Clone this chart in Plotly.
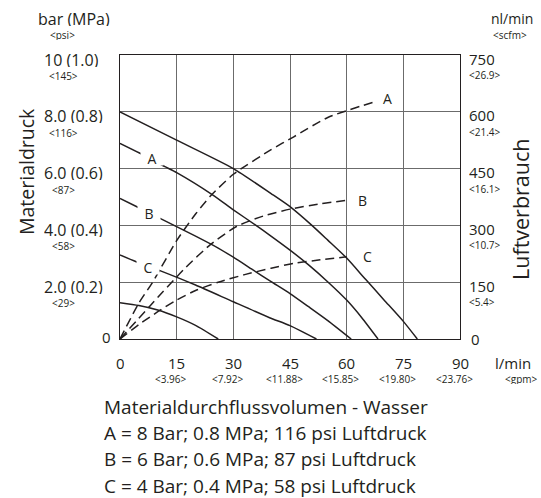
import plotly.graph_objects as go

# ---------------- data ----------------
# Material pressure (bar) vs material flow (l/min) - solid curves
flow_top = [0, 15, 30, 40, 45, 50.8, 55, 60, 65, 70, 75, 78.7]
pres_top = [8.0, 7.0, 6.0, 5.12, 4.66, 4.0, 3.48, 2.85, 2.1, 1.36, 0.62, 0]

flow_a = [0, 5.3, 11.9, 15, 24.6, 30, 36, 39.6, 45, 50, 55.1, 60, 64, 68.3]
pres_a = [6.89, 6.54, 6.07, 5.86, 5.07, 4.55, 4.0, 3.66, 3.13, 2.6, 2.0, 1.37, 0.75, 0]

flow_b = [0, 5, 11, 20, 26, 30, 35, 40, 45, 50, 55, 61.2]
pres_b = [4.95, 4.62, 4.22, 3.62, 3.2, 2.88, 2.45, 2.02, 1.6, 1.13, 0.65, 0]

flow_c = [0, 4.3, 10.9, 20, 30, 39.6, 45, 52]
pres_c = [2.96, 2.72, 2.39, 1.9, 1.31, 0.75, 0.47, 0]

flow_low = [0, 5, 10, 15, 20, 26]
pres_low = [1.28, 1.18, 1.02, 0.78, 0.48, 0]

# Air consumption (nl/min) vs material flow (l/min) - dashed curves
air_flow_a = [0, 5, 8.7, 15, 20, 24, 30, 40, 46, 55, 67.9]
air_a = [0, 95, 151, 260, 330, 378, 435, 500, 534, 585, 628]

air_flow_b = [0, 8, 17, 24, 31, 38, 45, 53, 60.8]
air_b = [0, 88, 185, 250, 298, 325, 343, 357, 367]

air_flow_c = [0, 5, 10, 15, 20, 26, 33, 40, 46, 53, 60]
air_c = [0, 38, 72, 103, 128, 150, 170, 187, 200, 209, 217]

# tick labels
x_vals = [0, 15, 30, 45, 60, 75, 90]
x_main = ["0", "15", "30", "45", "60", "75", "90"]
x_sub = ["", "<3.96>", "<7.92>", "<11.88>", "<15.85>", "<19.80>", "<23.76>"]

y_vals = [0, 2, 4, 6, 8, 10]
y_main = ["0", "2.0 (0.2)", "4.0 (0.4)", "6.0 (0.6)", "8.0 (0.8)", "10 (1.0)"]
y_sub = ["", "<29>", "<58>", "<87>", "<116>", "<145>"]

y2_vals = [0, 150, 300, 450, 600, 750]
y2_main = ["0", "150", "300", "450", "600", "750"]
y2_sub = ["", "<5.4>", "<10.7>", "<16.1>", "<21.4>", "<26.9>"]

legend_lines = [
    "Materialdurchflussvolumen - Wasser",
    "A = 8 Bar; 0.8 MPa; 116 psi Luftdruck",
    "B = 6 Bar; 0.6 MPa; 87 psi Luftdruck",
    "C = 4 Bar; 0.4 MPa; 58 psi Luftdruck",
]

# ---------------- layout geometry ----------------
W, H = 541, 498
L, R, T, B = 120, 460, 55, 339
FONT = "Open Sans"
INK = "#231f20"


def esc(s):
    return s.replace("&", "&amp;").replace("<", "&lt;").replace(">", "&gt;")


def px_x(px):
    return (px - L) / (R - L)


def px_y(py):
    return (B - py) / (B - T)


fig = go.Figure()

solid = dict(color=INK, width=1.5)
for fx, py in [(flow_top, pres_top), (flow_a, pres_a), (flow_b, pres_b),
               (flow_c, pres_c), (flow_low, pres_low)]:
    fig.add_trace(go.Scatter(x=fx, y=py, mode="lines", line=dict(shape="spline", smoothing=0.6, **solid),
                             hoverinfo="skip", showlegend=False))

dashed = dict(color=INK, width=1.5, dash="9px,5px")
for fx, ay in [(air_flow_a, air_a), (air_flow_b, air_b), (air_flow_c, air_c)]:
    fig.add_trace(go.Scatter(x=fx, y=ay, yaxis="y2", mode="lines",
                             line=dict(shape="spline", smoothing=0.6, **dashed),
                             hoverinfo="skip", showlegend=False))

ann = []


def text(x, y, s, size, xanchor="center", yanchor="middle", xref="paper", yref="paper",
         xshift=0, yshift=0, angle=0, **kw):
    kw.setdefault("borderpad", 0)
    ann.append(dict(x=x, y=y, xref=xref, yref=yref, text=s, showarrow=False,
                    font=dict(family=FONT, size=size, color=INK), xanchor=xanchor,
                    yanchor=yanchor, xshift=xshift, yshift=yshift, textangle=angle, **kw))


# left axis labels
for v, m, s in zip(y_vals, y_main, y_sub):
    if v == 0:
        text(0, v, m, 15, xanchor="right", yref="y", xshift=-8, yshift=2)
        continue
    text(0, v, esc(m), 16, xanchor="left", yref="y", xshift=43 - L, yshift=-4, height=15)
    text(0, v, esc(s), 10, xanchor="center", yref="y", xshift=63 - L, yshift=-21, height=10)

# right axis labels
for v, m, s in zip(y2_vals, y2_main, y2_sub):
    if v == 0:
        text(1, v, m, 15, xanchor="left", yref="y2", xshift=10, yshift=0)
        continue
    text(1, v, esc(m), 15, xanchor="left", yref="y2", xshift=468 - R, yshift=-3, height=15)
    text(1, v, esc(s), 10, xanchor="left", yref="y2", xshift=468 - R, yshift=-20, height=10)

# bottom axis labels
for v, m, s in zip(x_vals, x_main, x_sub):
    text(v, 0, m, 15, xref="x", yshift=-(362 - B), height=15)
    if s:
        text(v, 0, esc(s), 10, xref="x", xshift=-6, yshift=-(379 - B), height=10)

# axis headers / units
text(px_x(74), px_y(19), "bar (MPa)", 16, height=15)
text(px_x(62.5), px_y(35), esc("<psi>"), 10, height=10)
text(px_x(490), px_y(18), "nl/min", 14, xanchor="left", height=14)
text(px_x(492), px_y(35), esc("<scfm>"), 10, xanchor="left", height=10)
text(px_x(494), px_y(362), "l/min", 15, xanchor="left", height=15)
text(px_x(521.7), px_y(379), esc("<gpm>"), 10, height=10)

# axis titles
text(px_x(26), px_y(172), "Materialdruck", 19.5, angle=-90)
text(px_x(520), px_y(210), "Luftverbrauch", 21.5, angle=-90)

# curve labels on left (white box makes the gap in the line)
for fx, py, lab in [(8.38, 6.36, "A"), (7.74, 4.43, "B"), (7.48, 2.55, "C")]:
    text(fx, py, lab, 14, xref="x", yref="y", bgcolor="white", width=22, height=14)

# curve labels on right (dashed ends)
for fx, ay, lab in [(70.8, 634, "A"), (64.2, 367, "B"), (65.4, 217, "C")]:
    text(fx, ay, lab, 14, xref="x", yref="y2")

# legend text block
for i, line in enumerate(legend_lines):
    text(px_x(103), px_y(406.7 + i * 26.3), line, 19, xanchor="left")

grid = "#6b6b6b"
fig.update_layout(
    width=W, height=H,
    margin=dict(l=L, r=W - R, t=T, b=H - B, pad=0),
    paper_bgcolor="white", plot_bgcolor="white",
    showlegend=False,
    xaxis=dict(range=[0, 90], tickvals=x_vals, showticklabels=False, ticks="",
               showgrid=True, gridcolor=grid, gridwidth=1, zeroline=False,
               showline=True, linecolor=INK, linewidth=1, mirror=True, fixedrange=True),
    yaxis=dict(range=[0, 10], tickvals=y_vals, showticklabels=False, ticks="",
               showgrid=True, gridcolor=grid, gridwidth=1, zeroline=False,
               showline=True, linecolor=INK, linewidth=1, mirror=True, fixedrange=True),
    yaxis2=dict(range=[0, 750], tickvals=y2_vals, overlaying="y", side="right",
                showticklabels=False, ticks="", showgrid=False, zeroline=False,
                showline=False, fixedrange=True),
    annotations=ann,
)

fig.write_html("out.html", config={"displayModeBar": False},
               post_script="document.body.style.margin='0px';document.body.style.overflow='hidden';")
